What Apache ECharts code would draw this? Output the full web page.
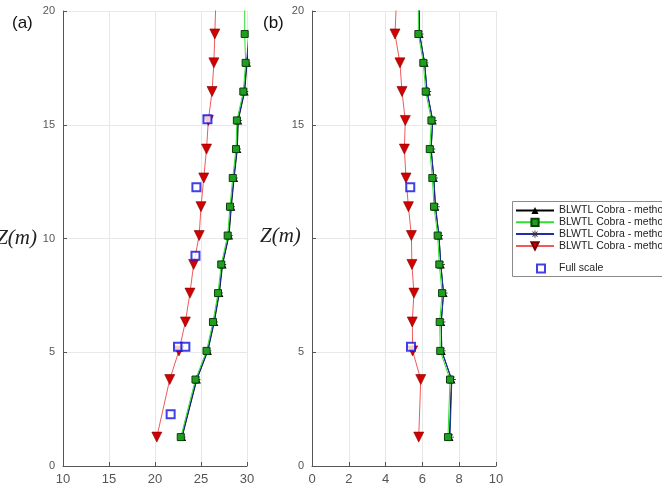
<!DOCTYPE html>
<html>
<head>
<meta charset="utf-8">
<script src="https://cdn.jsdelivr.net/npm/echarts@6/dist/echarts.min.js"></script>
<style>
  html, body { margin: 0; padding: 0; background: #fff; }
  #main { width: 662px; height: 492px; }
</style>
</head>
<body>
<div id="main"></div>
<script>
// heights (m) of the measurement levels, last one is just above the plot top
var zLevels = [1.27, 3.8, 5.06, 6.33, 7.6, 8.86, 10.13, 11.4, 12.66, 13.93, 15.19, 16.46, 17.72, 18.99, 20.26];
var seriesNames = ['BLWTL Cobra - method 1', 'BLWTL Cobra - method 2', 'BLWTL Cobra - method 3', 'BLWTL Cobra - method 4', 'Full scale'];

// panel (a)
var blackA = [22.95, 24.55, 25.75, 26.45, 27.0, 27.35, 28.05, 28.3, 28.6, 28.95, 29.05, 29.75, 30.0, 30.3, 30.5];
var greenA = [22.8, 24.4, 25.6, 26.3, 26.85, 27.2, 27.9, 28.15, 28.45, 28.8, 28.9, 29.6, 29.85, 29.75, 29.75];
var blueA = [22.9, 24.5, 25.7, 26.4, 26.95, 27.3, 28.0, 28.25, 28.55, 28.9, 29.0, 29.7, 29.95, 30.2, 30.4];
var redA = [20.2, 21.6, 22.6, 23.3, 23.8, 24.2, 24.8, 25.0, 25.3, 25.6, 25.8, 26.2, 26.4, 26.5, 26.6];
var fullT_A = [21.7, 22.5, 23.3, 24.4, 24.5, 25.7];
var fullZ_A = [2.27, 5.24, 5.24, 9.24, 12.25, 15.24];

// panel (b)
var blackB = [7.47, 7.58, 7.05, 7.02, 7.15, 7.0, 6.9, 6.7, 6.62, 6.47, 6.56, 6.25, 6.12, 5.85, 5.82];
var greenB = [7.39, 7.5, 6.97, 6.94, 7.07, 6.92, 6.83, 6.63, 6.54, 6.4, 6.49, 6.18, 6.05, 5.78, 5.78];
var blueB = [7.5, 7.6, 7.05, 7.03, 7.15, 7.0, 6.9, 6.72, 6.62, 6.48, 6.56, 6.26, 6.12, 5.84, 5.82];
var redB = [5.8, 5.91, 5.47, 5.45, 5.54, 5.43, 5.4, 5.24, 5.11, 5.02, 5.07, 4.89, 4.78, 4.51, 4.58];
var fullT_B = [5.38, 5.34];
var fullZ_B = [5.24, 12.25];

var xTicksA = [10, 15, 20, 25, 30];
var xTicksB = [0, 2, 4, 6, 8, 10];
var zTicks = [0, 5, 10, 15, 20];

function pairs(xs, zs) {
    return xs.map(function(v, i) { return [v, zs[i]]; });
}

var asterisk = 'path://M-0.6,-5L0.6,-5L0.6,5L-0.6,5Z M-5,-0.6L5,-0.6L5,0.6L-5,0.6Z M-3.9,-3.1L-3.1,-3.9L3.9,3.1L3.1,3.9Z M3.1,-3.9L3.9,-3.1L-3.1,3.9L-3.9,3.1Z';

function profileSeries(idx, black, green, blue, red, fullT, fullZ) {
    return [{
            name: seriesNames[0],
            type: 'line',
            xAxisIndex: idx, yAxisIndex: idx,
            data: pairs(black, zLevels),
            symbol: 'triangle', symbolSize: 8,
            lineStyle: { color: '#000', width: 1 },
            itemStyle: { color: '#000' }
        },
        {
            name: seriesNames[2],
            type: 'line',
            xAxisIndex: idx, yAxisIndex: idx,
            data: pairs(blue, zLevels),
            symbol: asterisk, symbolSize: 8,
            lineStyle: { color: '#1f2fa8', width: 1 },
            itemStyle: { color: '#333' }
        },
        {
            name: seriesNames[1],
            type: 'line',
            xAxisIndex: idx, yAxisIndex: idx,
            data: pairs(green, zLevels),
            symbol: 'rect', symbolSize: 7,
            lineStyle: { color: '#2ee02e', width: 1 },
            itemStyle: { color: '#1f9f1f', borderColor: '#0a400a', borderWidth: 1 }
        },
        {
            name: seriesNames[3],
            type: 'line',
            xAxisIndex: idx, yAxisIndex: idx,
            data: pairs(red, zLevels),
            symbol: 'triangle', symbolRotate: 180, symbolSize: 10,
            lineStyle: { color: '#f05a5a', width: 1 },
            itemStyle: { color: '#d40000', borderColor: '#7a0000', borderWidth: 0.6 }
        },
        {
            name: seriesNames[4],
            type: 'scatter',
            xAxisIndex: idx, yAxisIndex: idx,
            data: pairs(fullT, fullZ),
            symbol: 'rect', symbolSize: 8,
            itemStyle: { color: '#fff', borderColor: '#1010e0', borderWidth: 2 },
            z: 5
        }
    ];
}

function xAxisFor(idx, ticks, name) {
    return {
        gridIndex: idx,
        type: 'value',
        min: ticks[0], max: ticks[ticks.length - 1],
        interval: ticks[1] - ticks[0],
        name: name,
        nameLocation: 'middle',
        nameGap: 26,
        nameMoveOverlap: false,
        nameTextStyle: { fontFamily: 'Liberation Serif', fontStyle: 'italic', fontSize: 21, color: '#222' },
        axisLine: { lineStyle: { color: '#555', width: 1 } },
        axisTick: { inside: true, length: 4, lineStyle: { color: '#555' } },
        axisLabel: { color: '#555', fontFamily: 'Liberation Sans', fontSize: 13, margin: 7 },
        splitLine: { show: true, lineStyle: { color: '#e8e8e8', width: 1 } }
    };
}

function yAxisFor(idx, name) {
    return {
        gridIndex: idx,
        type: 'value',
        min: zTicks[0], max: zTicks[zTicks.length - 1],
        interval: 5,
        name: name,
        nameLocation: 'middle',
        nameRotate: 0,
        nameGap: 26,
        nameMoveOverlap: false,
        nameTextStyle: { fontFamily: 'Liberation Serif', fontStyle: 'italic', fontSize: 21, color: '#222' },
        axisLine: { lineStyle: { color: '#555', width: 1 } },
        axisTick: { inside: true, length: 4, lineStyle: { color: '#555' } },
        axisLabel: { color: '#555', fontFamily: 'Liberation Sans', fontSize: 11, margin: 8 },
        splitLine: { show: true, lineStyle: { color: '#e8e8e8', width: 1 } }
    };
}

var legendText = { fontFamily: 'Liberation Sans', fontSize: 10.5, lineHeight: 11, color: '#222' };

var chart = echarts.init(document.getElementById('main'));
var option = {
    animation: false,
    backgroundColor: '#fff',
    grid: [
        { left: 63, top: 11, width: 184, height: 455, outerBoundsMode: 'none', containLabel: false },
        { left: 312, top: 11, width: 184, height: 455, outerBoundsMode: 'none', containLabel: false }
    ],
    xAxis: [xAxisFor(0, xTicksA, 'T(°C)'), xAxisFor(1, xTicksB, 'T(m/s)')],
    yAxis: [yAxisFor(0, 'Z(m)'), yAxisFor(1, '')],
    legend: [{
            orient: 'vertical',
            left: 515, top: 205,
            itemWidth: 38, itemHeight: 9,
            itemGap: 0.8,
            padding: 0,
            data: seriesNames.slice(0, 4),
            textStyle: legendText
        },
        {
            orient: 'vertical',
            left: 536, top: 263,
            itemWidth: 8, itemHeight: 8,
            padding: 0,
            data: [seriesNames[4]],
            textStyle: Object.assign({ padding: [0, 0, 0, 9] }, legendText)
        }
    ],
    graphic: [
        { type: 'rect', shape: { x: 512.5, y: 201.5, width: 170, height: 75 }, style: { fill: 'none', stroke: '#8a8a8a', lineWidth: 1 }, z: -1 },
        { type: 'text', left: 12, top: 15, style: { text: '(a)', font: '17px "Liberation Sans"', fill: '#111' } },
        { type: 'text', left: 263, top: 15, style: { text: '(b)', font: '17px "Liberation Sans"', fill: '#111' } },
        // panel (b) y title sits over its own tick label, as in the source figure
        { type: 'text', left: 260, top: 226, z: 100,
          style: { text: 'Z(m)', font: 'italic 21px "Liberation Serif"', fill: '#222', backgroundColor: '#fff', padding: [0, 7, 0, 0] } }
    ],
    series: profileSeries(0, blackA, greenA, blueA, redA, fullT_A, fullZ_A)
        .concat(profileSeries(1, blackB, greenB, blueB, redB, fullT_B, fullZ_B))
};
chart.setOption(option);
</script>
</body>
</html>
